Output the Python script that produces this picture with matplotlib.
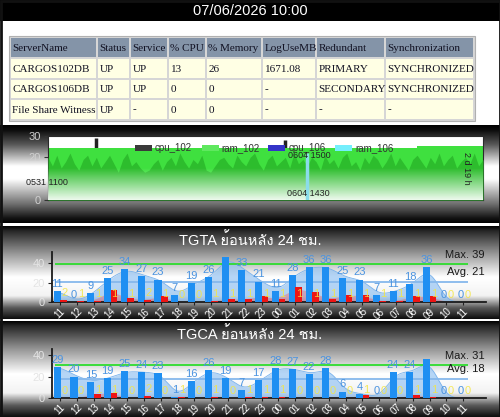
import numpy as np
import matplotlib.pyplot as plt
from matplotlib import font_manager
from matplotlib.ft2font import FT2Font
from matplotlib.patches import Rectangle

W, H = 500, 417

# header and status table
stamp = '07/06/2026 10:00'
table_cols = ['ServerName', 'Status', 'Service', '% CPU', '% Memory', 'LogUseMB', 'Redundant', 'Synchronization']
table_rows = [
    ['CARGOS102DB', 'UP', 'UP', '13', '26', '1671.08', 'PRIMARY', 'SYNCHRONIZED'],
    ['CARGOS106DB', 'UP', 'UP', '0', '0', '-', 'SECONDARY', 'SYNCHRONIZED'],
    ['File Share Witness', 'UP', '-', '0', '0', '-', '-', '-'],
]

# top chart: ram / cpu of both db servers (sample index on x)
ram_102_x = [0, 83, 84, 99]
ram_102 = [24.5, 24.5, 25.5, 25.5]
ram_102_low = [20, 16, 21, 15, 18, 22, 17, 14, 19, 21,
               16, 20, 15, 18, 21, 17, 13, 19, 22, 16,
               18, 15, 13, 14, 17, 19, 14, 18, 20, 16,
               22, 18, 15, 19, 17, 21, 14, 13, 16, 19,
               20, 17, 15, 21, 18, 16, 20, 22, 17, 14,
               19, 21, 16, 18, 20, 15, 22, 17, 19, 16,
               20, 18, 14, 21, 17, 19, 15, 20, 22, 16,
               18, 14, 20, 17, 21, 19, 15, 18, 22, 16,
               20, 17, 14, 19, 21, 18, 15, 20, 17, 22,
               16, 19, 21, 15, 18, 20, 17, 22, 16, 19]
cpu_102_x = [11, 54]
cpu_102 = [29, 28]
ram_106_x = [59]
ram_106 = [22]
legend_names = ['cpu_102', 'ram_102', 'cpu_106', 'ram_106']
legend_colors = ['#3a3a3a', '#5fe85f', '#3434c8', '#74eefc']

# hourly charts
hours = ['11', '12', '13', '14', '15', '16', '17', '18', '19', '20', '21', '22', '23',
         '00', '01', '02', '03', '04', '05', '06', '07', '08', '09', '10', '11']
tgta_total = [11, 0, 9, 25, 34, 27, 23, 7, 19, 26, 46, 33, 21, 11, 28, 36, 36, 25, 23, 7, 11, 18, 36, 0, 0]
tgta_red = [2, 1, 1, 12, 4, 2, 6, 0, 0, 1, 3, 3, 6, 3, 15, 10, 3, 7, 7, 1, 1, 6, 6, 0, 0]
tgta_yellow = [2, 1, 1, 1, 1, 2, 1, 0, 0, 1, 1, 1, 1, 1, 1, 1, 1, 1, 1, 1, 1, 1, 1, 0, 0]
tgta_max, tgta_avg = 39, 21

tgca_total = [29, 20, 15, 19, 25, 24, 23, 1, 16, 26, 19, 7, 17, 28, 27, 22, 28, 6, 4, 0, 24, 24, 36, 0, 0]
tgca_red = [0, 0, 4, 5, 0, 2, 0, 1, 0, 1, 0, 1, 1, 1, 0, 0, 0, 0, 3, 0, 0, 3, 1, 0, 0]
tgca_yellow = [0, 0, 1, 1, 0, 2, 0, 1, 0, 1, 0, 1, 1, 1, 0, 0, 0, 0, 1, 0, 0, 1, 1, 0, 0]
tgca_max, tgca_avg = 31, 18


def thai_font():
    for f in font_manager.fontManager.ttflist:
        try:
            if 0x0E22 in FT2Font(f.fname).get_charmap():
                return f.name
        except Exception:
            pass
    return 'DejaVu Sans'


THAI = thai_font()
plt.rcParams['font.family'] = ['Liberation Sans', 'DejaVu Sans']


def px_axes(fig, x0, y0, x1, y1):
    return fig.add_axes([x0 / W, 1 - y1 / H, (x1 - x0) / W, (y1 - y0) / H])


def panel_bg(ax, y0, y1, stops, levels):
    t = np.linspace(0, 1, 300)
    g = np.interp(t, stops, levels)
    ax.imshow(g[:, None], cmap='gray', vmin=0, vmax=1, extent=(0, W, y1, y0),
              aspect='auto', interpolation='bilinear', zorder=1)


def smooth(vals, per=16, sigma=0.38):
    x = np.arange(len(vals))
    xs = np.linspace(0, len(vals) - 1, (len(vals) - 1) * per + 1)
    ys = np.interp(xs, x, vals)
    half = int(3 * sigma * per)
    k = np.exp(-0.5 * (np.arange(-half, half + 1) / (sigma * per)) ** 2)
    k /= k.sum()
    ys = np.convolve(np.pad(ys, half, mode='edge'), k, mode='valid')
    return xs, ys


def bar_panel(ax, total, red, yellow, vmax, vavg, ytop):
    x = np.arange(len(hours))
    xs, ys = smooth(total)
    ax.fill_between(xs, ys, color='#8ec0f2', alpha=0.65, lw=0, zorder=1)
    ax.plot(xs, ys, color='#79b2ec', lw=0.6, zorder=1)
    xs, rs = smooth(red)
    ax.fill_between(xs, rs, color='#ff4a4a', alpha=0.35, lw=0, zorder=2)
    ax.hlines(vavg, -0.3, 24.3, color='#86b8ec', lw=1.3, zorder=2)
    ax.hlines(vmax, -0.3, 24.3, color='#2fdc2f', lw=1.3, zorder=2)
    ax.bar(x - 0.17, total, width=0.42, color='#1f8ff2', zorder=3)
    ax.bar(x + 0.21, red, width=0.4, color='#ee1414', zorder=4)
    for i in x:
        if total[i] <= vmax:
            ax.annotate(str(total[i]), (i - 0.17, total[i]), xytext=(0, 1.5), textcoords='offset points',
                        ha='center', va='bottom', fontsize=8, color='#4a93e0', zorder=6)
        ax.annotate(str(yellow[i]), (i + 0.25, yellow[i]), xytext=(0, 1.5), textcoords='offset points',
                    ha='center', va='bottom', fontsize=8, color='#f4e640', alpha=0.85, zorder=6)
    ax.annotate(f'Max. {vmax}', (25.3, vmax), xytext=(0, 3), textcoords='offset points',
                ha='right', va='bottom', fontsize=8, color='#1a1a1a')
    ax.annotate(f'Avg. {vavg}', (25.3, vavg), xytext=(0, 3), textcoords='offset points',
                ha='right', va='bottom', fontsize=8, color='#1a1a1a')
    ax.set_xlim(-0.48, 25.36)
    ax.set_ylim(0, ytop)
    ax.set_facecolor('none')
    ax.set_xticks(x)
    ax.set_xticklabels(hours, rotation=45, ha='center', va='top', fontsize=7, color='white')
    ax.set_yticks([0, 20, 40])
    ax.tick_params(axis='y', labelsize=8, labelcolor='#e4e4e4', length=3, color='#222222', pad=2)
    ax.tick_params(axis='x', length=2, color='#222222', pad=1)
    for s in ['top', 'right']:
        ax.spines[s].set_visible(False)
    for s in ['left', 'bottom']:
        ax.spines[s].set_color('#1a1a1a')
        ax.spines[s].set_linewidth(1.3)


fig = plt.figure(figsize=(W / 100, H / 100), dpi=100)

bg = fig.add_axes([0, 0, 1, 1])
bg.set_zorder(0)
bg.set_xlim(0, W)
bg.set_ylim(H, 0)
bg.axis('off')

bg.add_patch(Rectangle((0, 0), W, H, fc='white', ec='none', zorder=0))
bg.add_patch(Rectangle((0, 0), W, 20.5, fc='black', ec='none', zorder=2))
bg.text(W / 2, 11, stamp, ha='center', va='center', fontsize=10.5, color='white', zorder=3)

panel_bg(bg, 125, 223, [0, 0.05, 0.2, 0.42, 0.55, 0.8, 0.95, 1], [0, 0.05, 0.35, 1, 1, 0.45, 0.08, 0])
panel_bg(bg, 226, 319, [0, 0.05, 0.3, 0.55, 0.75, 0.88, 1], [0, 0.15, 0.6, 1, 0.95, 0.35, 0.05])
panel_bg(bg, 321, H, [0, 0.05, 0.3, 0.55, 0.75, 0.88, 1], [0, 0.15, 0.6, 1, 0.95, 0.35, 0.05])
bg.add_patch(Rectangle((0.5, 0.5), W - 1, H - 1, fc='none', ec='#111111', lw=2, zorder=5))

# status table
col_x = [10, 97, 130, 168, 206, 262, 316, 385, 474]
row_y = [37, 58, 79, 99, 120]
bg.add_patch(Rectangle((col_x[0] - 1, row_y[0] - 1), col_x[-1] - col_x[0] + 2, row_y[-1] - row_y[0] + 2,
                       fc='#d6d6d6', ec='#b0b0b0', lw=0.8, zorder=2))
for r, cells in enumerate([table_cols] + table_rows):
    for c, txt in enumerate(cells):
        x0, x1 = col_x[c], col_x[c + 1]
        y0, y1 = row_y[r], row_y[r + 1]
        bg.add_patch(Rectangle((x0 + 1, y0 + 1), x1 - x0 - 2, y1 - y0 - 2,
                               fc='#8494a8' if r == 0 else '#ffffe4', ec='none', zorder=3))
        bg.text(x0 + 2.5, (y0 + y1) / 2 + 0.5, txt, ha='left', va='center', fontsize=8,
                family='Liberation Serif', color='#111122', zorder=4)

bg.text(W / 2, 240, 'TGTA ย้อนหลัง 24 ชม.', ha='center', va='center', fontsize=10.5,
        color='white', family=['Liberation Sans', THAI], zorder=4)
bg.text(W / 2, 334, 'TGCA ย้อนหลัง 24 ชม.', ha='center', va='center', fontsize=10.5,
        color='white', family=['Liberation Sans', THAI], zorder=4)

# server ram / cpu chart
ax1 = px_axes(fig, 48, 136, 483, 200)
ax1.set_zorder(2)
ax1.set_facecolor('white')
n = len(ram_102_low)
ax1.vlines(cpu_102_x, 0, cpu_102, color='#222222', lw=2.5, zorder=1)
ax1.fill_between(ram_102_x, ram_102, step='post', color='#3fe03f', lw=0, zorder=2)
ax1.fill_between(np.arange(n), ram_102_low, color='#2dbd2d', lw=0, zorder=3)
fade = np.ones((200, 1, 4))
yy = np.linspace(30, 0, 200)
fade[:, 0, 3] = np.clip((15 - yy) / 15, 0, 1) * 0.92
ax1.imshow(fade, extent=(0, n - 1, 0, 30), aspect='auto', zorder=4)
ax1.vlines(ram_106_x, 0, ram_106, color='#8adcea', lw=2.5, zorder=5)
ax1.set_xlim(0, n - 1)
ax1.set_ylim(0, 30)
ax1.set_xticks([])
ax1.set_yticks([0, 20, 30])
ax1.tick_params(axis='y', labelsize=8, labelcolor='#d0d0d0', length=3, color='#333333', pad=2)
for s in ax1.spines.values():
    s.set_color('#2a2a2a')

# hourly charts
ax2 = px_axes(fig, 52, 252, 486, 302)
ax2.set_zorder(2)
bar_panel(ax2, tgta_total, tgta_red, tgta_yellow, tgta_max, tgta_avg, 51.3)

ax3 = px_axes(fig, 52, 349, 486, 398)
ax3.set_zorder(2)
bar_panel(ax3, tgca_total, tgca_red, tgca_yellow, tgca_max, tgca_avg, 45.6)

# texts over the top chart
top = fig.add_axes([0, 0, 1, 1])
top.set_zorder(5)
top.set_xlim(0, W)
top.set_ylim(H, 0)
top.axis('off')
top.patch.set_visible(False)
for i, (name, col) in enumerate(zip(legend_names, legend_colors)):
    sx = 135 + i * 66.7
    top.add_patch(Rectangle((sx, 145), 17, 6, fc=col, ec='none'))
    top.text(sx + 20, 148, name, ha='left', va='center', fontsize=7, color='#333333')
top.text(26, 182, '0531 1100', ha='left', va='center', fontsize=6.5, color='#222222')
top.text(288, 156, '0604 1500', ha='left', va='center', fontsize=6.5, color='#222222')
top.text(287, 193, '0604 1430', ha='left', va='center', fontsize=6.5, color='#222222')
top.text(467, 168, '2 d 19 h', ha='center', va='center', rotation=-90, fontsize=6.5, color='#222222')

fig.savefig('out.png', dpi=100)
